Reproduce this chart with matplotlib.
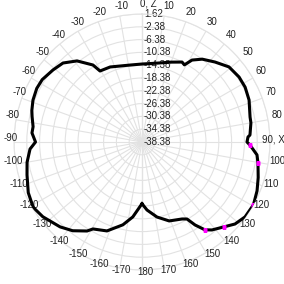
import matplotlib
matplotlib.use("Agg")
import matplotlib.pyplot as plt
import numpy as np
from matplotlib.transforms import offset_copy

# pattern data: angle (deg) and level (dB)
angles = [-180, -173, -167, -158.5, -150.6, -148.3, -142, -136, -127, -121,
          -114, -106, -100, -93.6, -90, -85.3, -82, -77, -74, -69, -63, -58,
          -51, -45, -38.7, -32.5, -30.6, -23, -9, 0, 10, 20, 26.6, 28.8, 31.4,
          36, 42.4, 49.2, 56.2, 62, 68.6, 77, 80, 86.3, 87.3, 90, 91.6, 96.4,
          100.3, 107, 113, 119.4, 126, 131.4, 136, 141.5, 144.4, 147.4, 149.7,
          152.5, 161, 168.7, 175.8, 180]
levels = [-19.1, -14.79, -11.82, -8.51, -7.19, -5.69, -3.19, -1.51, 0.43, 1.28,
          0.53, -1.00, -1.91, -3.32, -5.10, -3.88, -4.01, -3.13, -2.57, -1.88,
          -1.47, -1.60, -2.60, -3.47, -5.91, -9.85, -12.60, -12.91, -14.04,
          -14.01, -13.38, -11.82, -10.44, -10.88, -8.38, -6.38, -4.54, -2.47,
          -1.88, -1.88, -2.44, -3.72, -3.82, -4.57, -5.22, -5.57, -4.63, -2.22,
          -1.54, -0.41, 0.68, 1.6, 1.43, 0.37, -1.51, -3.26, -4.63, -7.60,
          -10.51, -11.26, -12.29, -14.47, -17.07, -19.1]

# highlighted points (magenta)
mark_angles = [91.6, 100.3, 119.4, 136, 144.4]
mark_levels = [-4.63, -1.54, 1.6, -1.51, -4.63]

r_ticks = [1.62, -2.38, -6.38, -10.38, -14.38, -18.38, -22.38, -26.38,
           -30.38, -34.38, -38.38]
theta_ticks = list(range(0, 360, 10))
theta_labels = []
for t in theta_ticks:
    v = t if t <= 180 else t - 360
    if v == 0:
        theta_labels.append("0, Z")
    elif v == 90:
        theta_labels.append("90, X")
    else:
        theta_labels.append(str(v))

r_min, r_max = -38.38, 1.62
plt.rcParams['font.family'] = ['Liberation Sans', 'DejaVu Sans']

fig = plt.figure(figsize=(2.84, 2.84), dpi=100)
ax = fig.add_axes([14/284, 14/284, 256/284, 256/284], projection='polar')
ax.set_theta_zero_location('N')
ax.set_theta_direction(-1)
ax.set_ylim(r_min, r_max)

ax.set_yticks(r_ticks)
ax.set_yticklabels([])
ax.set_xticks(np.deg2rad(theta_ticks))
ax.set_xticklabels([])
ax.set_thetalim(0, 2 * np.pi)
ax.tick_params(length=0)
ax.grid(True, color='#e2e2e2', linewidth=0.8)
ax.spines['polar'].set_color('#e2e2e2')
ax.spines['polar'].set_linewidth(0.8)

# darker vertical axis line
ax.plot([0, 0], [r_min, r_max], color='#c4c4c4', lw=0.8, zorder=1)
ax.plot([np.pi, np.pi], [r_min, r_max], color='#c4c4c4', lw=0.8, zorder=1)

# radial labels along the 0 line
tr = offset_copy(ax.transData, fig=fig, x=2, y=0, units='dots')
for r in r_ticks:
    ax.text(0, r, "%.2f" % r, transform=tr, ha='left', va='center',
            fontsize=7, color='#222222', zorder=2)

# angular labels, centred a little outside the outer ring
px_per_db = 128 / (r_max - r_min)
lab_r = r_min + 134 / px_per_db
tr_lab = offset_copy(ax.transData, fig=fig, x=3, y=4, units='dots')
for t, s in zip(theta_ticks, theta_labels):
    th = np.deg2rad(t)
    if t == 90:
        ax.text(th, r_max, s, ha='center', va='center', fontsize=7,
                color='#222222', clip_on=False,
                transform=offset_copy(ax.transData, fig=fig, x=3, y=2,
                                      units='dots'))
        continue
    if t == 0:
        s_tr = offset_copy(ax.transData, fig=fig, x=6, y=4, units='dots')
    else:
        s_tr = tr_lab
    ax.text(th, lab_r, s, ha='center', va='center', fontsize=7,
            color='#222222', clip_on=False, transform=s_tr)

ax.plot(np.deg2rad(angles), levels, color='black', lw=2.2, zorder=3)
ax.plot(np.deg2rad(mark_angles), mark_levels, 's', color='#ff00ff',
        ms=2.8, mec='none', zorder=4)

fig.savefig("out.png", dpi=100)
